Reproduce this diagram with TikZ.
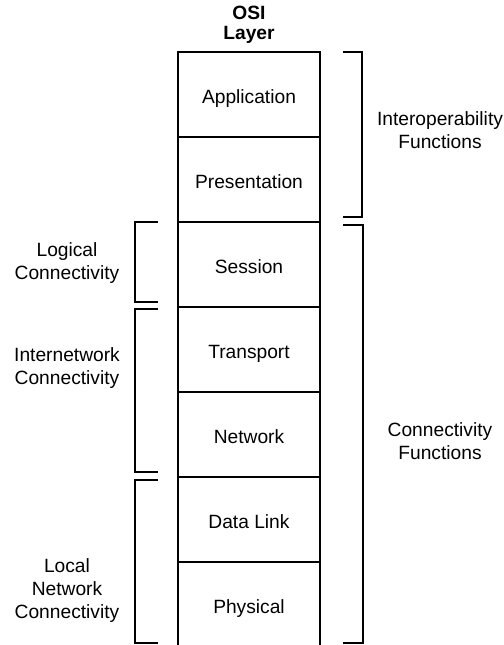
\documentclass[tikz,border=0pt]{standalone}
\usepackage{fontspec}
\setmainfont{Liberation Sans}
\begin{document}
\begin{tikzpicture}[x=0.5pt, y=-0.5pt, line width=0.7pt,
    layer/.style={draw, minimum width=71pt, minimum height=42.5pt, inner sep=0pt, text height=10.5pt, text depth=2pt, font=\fontsize{9.6}{11.5}\selectfont},
    lbl/.style={align=center, font=\fontsize{9.6}{11.5}\selectfont}]
    \useasboundingbox (0,0) rectangle (504,645);

    % Title
    \node[align=center, font=\bfseries\fontsize{9.6}{10}\selectfont] (title) at (249,25) {OSI\\Layer};

    % Layer stack (each layer 85 units tall, top at 52)
    \foreach \name/\lname [count=\i] in {app/Application, pres/Presentation, sess/Session, trans/Transport, net/Network, dlink/Data Link, phys/Physical} {
        \node[layer] (\name) at (249, 52+85*\i-42.5) {\lname};
    }

    % Right brackets
    \draw (343,52) -- (362,52) -- (362,217) -- (343,217);
    \draw (343,225) -- (363,225) -- (363,643) -- (343,643);
    \node[lbl] (interop) at (440,130) {Interoperability\\Functions};
    \node[lbl] (connfunc) at (440,441) {Connectivity\\Functions};

    % Left brackets
    \draw (158,222) -- (135,222) -- (135,302) -- (158,302);
    \draw (158,309) -- (135,309) -- (135,472) -- (158,472);
    \draw (158,480) -- (135,480) -- (135,643) -- (158,643);
    \node[lbl] (logical) at (67,263) {Logical\\Connectivity};
    \node[lbl] (internet) at (67,368) {Internetwork\\Connectivity};
    \node[lbl] (localnet) at (67,591) {Local\\Network\\Connectivity};
\end{tikzpicture}
\end{document}
